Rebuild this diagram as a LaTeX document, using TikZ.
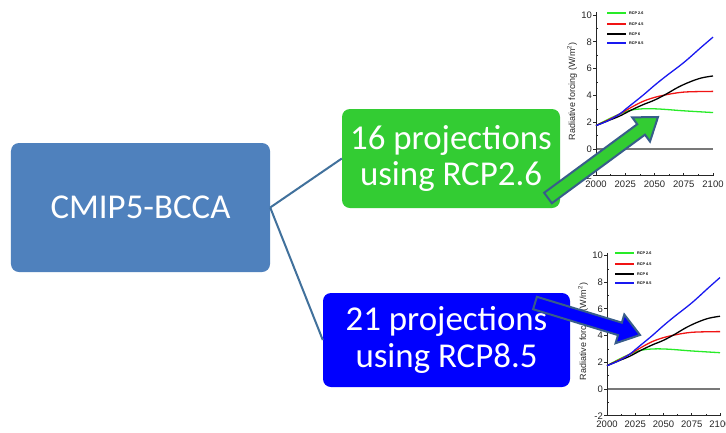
\documentclass[tikz,border=0pt]{standalone}
\usepackage{fontspec}
\setmainfont{Carlito}
\newfontfamily\arialf{Liberation Sans}
\usetikzlibrary{calc}
\definecolor{mainblue}{RGB}{79,129,189}
\definecolor{boxgreen}{RGB}{51,204,51}
\definecolor{boxblue}{RGB}{0,0,255}
\definecolor{linkblue}{RGB}{65,113,156}
\definecolor{arrowedge}{RGB}{56,93,138}
\definecolor{rcpgreen}{RGB}{40,235,40}
\definecolor{rcpred}{RGB}{240,20,20}
\definecolor{rcpblue}{RGB}{25,25,240}
\definecolor{zerogray}{RGB}{120,120,120}
\tikzset{
  bigbox/.style={rounded corners=8bp, text=white, align=center, inner sep=0pt,
    font=\fontsize{35}{37}\selectfont},
  link/.style={draw=linkblue, line width=2bp},
  blockarrow/.style={draw=arrowedge, line width=2bp, line join=miter},
  ticklab/.style={font=\arialf\fontsize{9.5}{10}\selectfont, text=black!85, inner sep=0pt},
  axislab/.style={font=\arialf\fontsize{9}{10}\selectfont, text=black!85, inner sep=0pt, rotate=90},
  leglab/.style={font=\arialf\bfseries\fontsize{3.8}{4}\selectfont, anchor=west, inner sep=0pt},
  rcpcurve/.style={line width=1.3bp},
  axisline/.style={line width=0.9bp, black!85},
}
% #1 origin x, #2 origin y (pixels), #3 px per year, #4 px per W/m2, #5 legend x offset, #6 name prefix
\newcommand\rfchart[6]{%
\begin{scope}[shift={(#1,#2)}, x=#3bp, y=#4bp]
  \draw[zerogray, line width=1.2bp] (0,0) -- (100,0);
  \draw[axisline] (0,10.2) -- (0,-2) -- (100,-2);
  \foreach \v in {-2,0,2,4,6,8,10} {
    \draw[axisline] (0,\v) -- ++(-3bp,0);
    \node[ticklab, anchor=east] (#6y\v) at ([xshift=-4bp]0,\v) {\v};
  }
  \foreach \v in {-1,1,3,5,7,9} {\draw[axisline, line width=0.6bp] (0,\v) -- ++(2bp,0);}
  \foreach \yr/\lab in {0/2000,25/2025,50/2050,75/2075,100/2100} {
    \draw[axisline] (\yr,-2) -- ++(0,3bp);
    \node[ticklab, anchor=north] (#6x\lab) at ([yshift=-4.5bp]\yr,-2) {\lab};
  }
  \foreach \yr in {12.5,37.5,62.5,87.5} {\draw[axisline, line width=0.6bp] (\yr,-2) -- ++(0,2bp);}
  \node[axislab] (#6lab) at ([xshift=-24bp]0,4.3) {Radiative forcing (W/m\textsuperscript{2})};
  \draw[rcpcurve, rcpgreen] plot[smooth, tension=0.6] coordinates {(0,1.75) (10,2.2) (20,2.6) (30,2.9) (40,3.0) (50,3.0) (60,2.95) (75,2.85) (100,2.72)};
  \draw[rcpcurve, rcpred] plot[smooth, tension=0.6] coordinates {(0,1.75) (10,2.15) (20,2.6) (30,3.1) (40,3.55) (50,3.85) (60,4.05) (70,4.2) (80,4.27) (100,4.3)};
  \draw[rcpcurve, black] plot[smooth, tension=0.6] coordinates {(0,1.75) (10,2.1) (20,2.45) (30,2.9) (40,3.3) (50,3.65) (60,4.1) (70,4.6) (80,5.0) (90,5.3) (100,5.45)};
  \draw[rcpcurve, rcpblue] plot[smooth, tension=0.6] coordinates {(0,1.75) (10,2.1) (20,2.6) (25,2.95) (30,3.3) (40,4.0) (50,4.75) (60,5.45) (75,6.45) (90,7.6) (100,8.35)};
  \foreach \c/\t/\dy in {rcpgreen/RCP 2.6/136, rcpred/RCP 4.5/125, black/RCP 6/115, rcpblue/RCP 8.5/106} {
    \draw[\c, line width=1.2bp] (#5bp,\dy bp) -- ++(19bp,0);
    \node[leglab] at ([xshift=22bp]#5bp,\dy bp) {\t};
  }
\end{scope}}
\begin{document}
\begin{tikzpicture}[x=1bp, y=-1bp]
  \useasboundingbox[fill=white] (0,0) rectangle (726,432);
  % charts
  \rfchart{596}{149}{1.17}{13.4}{11}{top}
  \rfchart{607}{389}{1.13}{13.35}{8}{bot}
  % boxes
  \node[bigbox, fill=mainblue, minimum width=259bp, minimum height=129bp] (main) at (140.5,207.5) {CMIP5-BCCA};
  \node[bigbox, fill=boxgreen, minimum width=218bp, minimum height=99bp] (g) at (451,158.5) {16 projections\\using RCP2.6};
  \node[bigbox, fill=boxblue, minimum width=247bp, minimum height=94bp] (b) at (446.5,340) {21 projections\\using RCP8.5};
  % connectors
  \draw[link] (main.east) -- (g.west);
  \draw[link] (main.east) -- (b.west);
  % block arrows
  \coordinate (gT) at (548,198);
  \coordinate (gP) at (658,117);
  \coordinate (gN) at ($(gP)!21bp!(gT)$);
  \filldraw[blockarrow, fill=boxgreen]
    ($(gT)!6.5bp!90:(gP)$) -- ($(gN)!6.5bp!90:(gP)$) -- ($(gN)!15bp!90:(gP)$) -- (gP)
    -- ($(gN)!15bp!-90:(gP)$) -- ($(gN)!6.5bp!-90:(gP)$) -- ($(gT)!6.5bp!-90:(gP)$) -- cycle;
  \coordinate (bT) at (535,303);
  \coordinate (bP) at (640,335);
  \coordinate (bN) at ($(bP)!21bp!(bT)$);
  \filldraw[blockarrow, fill=boxblue]
    ($(bT)!6.5bp!90:(bP)$) -- ($(bN)!6.5bp!90:(bP)$) -- ($(bN)!15bp!90:(bP)$) -- (bP)
    -- ($(bN)!15bp!-90:(bP)$) -- ($(bN)!6.5bp!-90:(bP)$) -- ($(bT)!6.5bp!-90:(bP)$) -- cycle;
\end{tikzpicture}
\end{document}
